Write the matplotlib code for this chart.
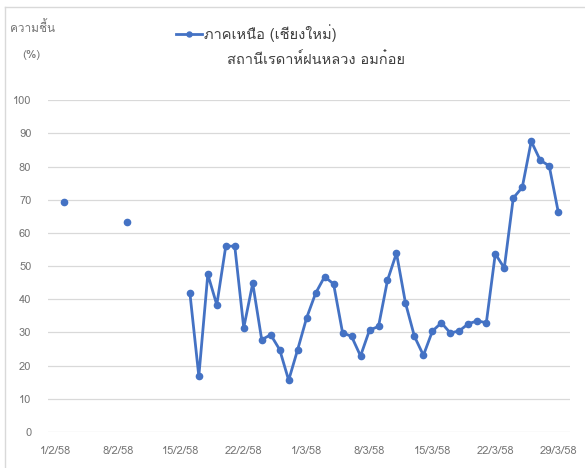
import numpy as np
import pandas as pd
import matplotlib
matplotlib.use("Agg")
import matplotlib.pyplot as plt
from matplotlib import font_manager
from matplotlib.ft2font import FT2Font
from matplotlib.lines import Line2D

# find some installed font that can draw Thai
thai_fonts = []
for f in font_manager.fontManager.ttflist:
    try:
        if FT2Font(f.fname).get_char_index(ord("ก")) and f.name not in thai_fonts:
            thai_fonts.append(f.name)
    except Exception:
        pass
plt.rcParams["font.family"] = thai_fonts[:1] + ["DejaVu Sans"]

# ความชื้นรายวัน 1/2/58 - 29/3/58 (None = ไม่มีข้อมูล)
dates = pd.date_range("2015-02-01", "2015-03-29")
humidity = [
    None, 69.3, None, None, None, None, None, None, 63.3, None, None, None, None, None,
    None, 42.0, 16.8, 47.5, 38.3, 56.0, 56.0, 31.4, 44.8, 27.8, 29.3, 24.8, 15.6, 24.8,
    34.4, 41.8, 46.8, 44.6, 29.9, 28.8, 22.9, 30.7, 31.8, 45.7, 53.9, 38.9, 28.8, 23.1,
    30.4, 32.9, 29.8, 30.5, 32.6, 33.5, 32.9, 53.7, 49.4, 70.5, 73.7, 87.6, 81.9, 80.2,
    66.4,
]
tick_dates = pd.date_range("2015-02-01", "2015-03-29", freq="7D")
tick_labels = ["1/2/58", "8/2/58", "15/2/58", "22/2/58", "1/3/58",
               "8/3/58", "15/3/58", "22/3/58", "29/3/58"]
series_name = "ภาคเหนือ (เชียงใหม่)"
subtitle = "สถานีเรดาห์ฝนหลวง อมก๋อย"

vals = np.array([np.nan if v is None else v for v in humidity])

fig = plt.figure(figsize=(5.85, 4.68), dpi=100)
ax = fig.add_axes([0.082, 0.077, 0.892, 0.709])

ax.plot(dates, vals, color="#4472C4", lw=2.0, marker="o", ms=4.5,
        label=series_name)

ax.set_ylim(0, 100)
ax.set_yticks(np.arange(0, 101, 10))
ax.set_xticks(tick_dates)
ax.set_xticklabels(tick_labels)
ax.set_xlim(dates[0] - pd.Timedelta(hours=19), dates[-1] + pd.Timedelta(hours=31))

ax.grid(axis="y", color="#d9d9d9", lw=0.9)
ax.set_axisbelow(True)
for s in ax.spines.values():
    s.set_visible(False)
ax.tick_params(length=0, labelsize=8, labelcolor="#767676")
ax.tick_params(axis="x", pad=10)
ax.tick_params(axis="y", pad=12)

# ชื่อแกน y
fig.text(10 / 585, 1 - 27 / 468, "ความชื้น", fontsize=8.5, color="#767676",
         ha="left", va="center")
fig.text(31 / 585, 1 - 55 / 468, "(%)", fontsize=8.5, color="#767676",
         ha="center", va="center")

ax.legend(loc="center left", bbox_to_anchor=(163 / 585, 1 - 33 / 468),
          bbox_transform=fig.transFigure, frameon=False, fontsize=10.5,
          handlelength=1.8, handletextpad=0.1, markerscale=0.8,
          labelcolor="#404040")
fig.text(316 / 585, 1 - 60 / 468, subtitle, fontsize=10.5, color="#404040",
         ha="center", va="center")

# กรอบของแผนภูมิ
fig.add_artist(Line2D([5 / 585, 5 / 585], [0, 1 - 7 / 468], color="#d9d9d9", lw=1))
fig.add_artist(Line2D([5 / 585, 1], [1 - 7 / 468, 1 - 7 / 468], color="#d9d9d9", lw=1))

fig.savefig("out.png", dpi=100)
